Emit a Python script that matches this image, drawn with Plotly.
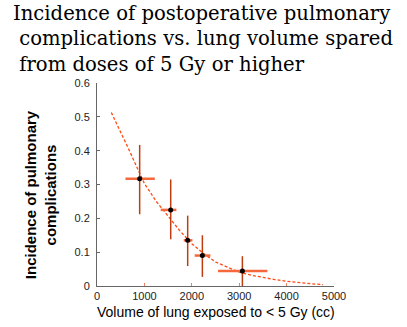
import plotly.graph_objects as go

# Data
vol = [900, 1555, 1913, 2223, 3067]
incidence = [0.317, 0.225, 0.135, 0.090, 0.044]
y_err_plus = [0.100, 0.090, 0.073, 0.060, 0.044]
y_err_minus = [0.105, 0.087, 0.076, 0.063, 0.044]
x_err_plus = [320, 120, 100, 169, 528]
x_err_minus = [300, 211, 84, 162, 514]

fit_x = [302, 500, 700, 900, 1000, 1250, 1500, 1750, 2000, 2250, 2500, 2750, 3000, 3250, 3500, 3750, 4000, 4250, 4500, 4770]
fit_y = [0.513, 0.456, 0.395, 0.333, 0.303, 0.250, 0.205, 0.163, 0.125, 0.096, 0.071, 0.055, 0.041, 0.032, 0.025, 0.019, 0.014, 0.010, 0.007, 0.004]

x_ticks = [0, 1000, 2000, 3000, 4000, 5000]
y_ticks = [0, 0.1, 0.2, 0.3, 0.4, 0.5, 0.6]
y_tick_text = ["0", "0.1", "0.2", "0.3", "0.4", "0.5", "0.6"]

fig = go.Figure()
fig.add_trace(go.Scatter(
    x=fit_x, y=fit_y, mode="lines",
    line=dict(color="#ff4a14", width=1.3, dash="3px,2px"),
    hoverinfo="skip", showlegend=False,
))
fig.add_trace(go.Scatter(
    x=vol, y=incidence, mode="markers",
    marker=dict(color="black", size=5, symbol="circle"),
    error_x=dict(type="data", symmetric=False, array=x_err_plus, arrayminus=x_err_minus,
                 color="#f4683c", thickness=2.5, width=0),
    error_y=dict(type="data", symmetric=False, array=y_err_plus, arrayminus=y_err_minus,
                 color="#c03c0e", thickness=1.5, width=0),
    showlegend=False,
))

fig.update_layout(
    width=407, height=327,
    margin=dict(l=97, r=73, t=83, b=41),
    paper_bgcolor="white", plot_bgcolor="white",
    font=dict(family="Liberation Sans, Arial, sans-serif", color="#222"),
    xaxis=dict(range=[0, 5000], tickvals=x_ticks, ticks="inside", ticklen=3,
               tickcolor="#f08060", showline=True, linecolor="#666", linewidth=1,
               showgrid=False, zeroline=False, tickfont=dict(size=11, color="#222")),
    yaxis=dict(range=[0, 0.6], tickvals=y_ticks, ticktext=y_tick_text, ticks="inside",
               ticklen=3, tickcolor="#666", showline=True, linecolor="#666", linewidth=1,
               showgrid=False, zeroline=False, tickfont=dict(size=11, color="#222"),
               ticklabelstandoff=4),
    annotations=[
        dict(text="Incidence of postoperative pulmonary<br> complications vs. lung volume spared<br> from doses of 5 Gy or higher",
             xref="paper", yref="paper", x=-0.362, y=1.41, xanchor="left", yanchor="top",
             align="left", showarrow=False,
             font=dict(family="DejaVu Serif", size=19.6, color="black")),
        dict(text="<b>Incidence of pulmonary<br>complications</b>",
             xref="paper", yref="paper", x=-0.24, y=0.448, xanchor="center", yanchor="middle",
             textangle=-90, showarrow=False,
             font=dict(family="Liberation Sans, Arial", size=15, color="black")),
        dict(text="Volume of lung exposed to &lt; 5 Gy (cc)",
             xref="paper", yref="paper", x=0.5, y=-0.13, xanchor="center", yanchor="middle",
             showarrow=False,
             font=dict(family="Liberation Sans, Arial", size=14, color="black")),
    ],
)

fig.write_html("out.html")
